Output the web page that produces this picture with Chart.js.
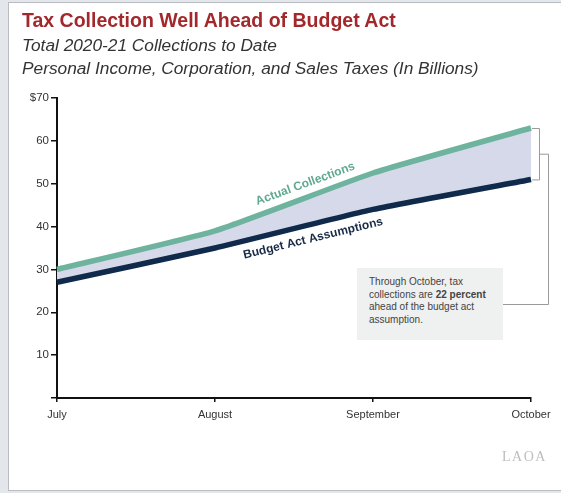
<!DOCTYPE html>
<html>
<head>
<meta charset="utf-8">
<script src="https://cdn.jsdelivr.net/npm/chart.js@4/dist/chart.umd.min.js"></script>
<style>
  html, body { margin:0; padding:0; width:561px; height:493px; overflow:hidden; background:#e3e6ea; font-family:'Liberation Sans', Arial, sans-serif; }
  #card { position:absolute; left:8px; top:2px; width:560px; height:487px; background:#fff; border:1px solid #b9bcc0; border-right:none; }
  #wrap { position:absolute; left:0; top:0; width:561px; height:493px; }
  .title { position:absolute; left:22px; top:9px; font-size:19.5px; font-weight:bold; color:#a3282b; white-space:nowrap; }
  .sub { position:absolute; left:22px; font-size:17.3px; font-style:italic; color:#333; white-space:nowrap; }
  #note { position:absolute; left:357px; top:268px; width:134px; height:64px; padding:8px 0 0 12px; background:#eff0f0; font-size:10px; line-height:12.7px; color:#444; }
  #logo { position:absolute; left:502px; top:449px; font-family:'Liberation Serif', serif; font-size:14px; color:#bdbdbd; letter-spacing:1.5px; }
</style>
</head>
<body>
<div id="card"></div>
<div id="wrap"><canvas id="c"></canvas></div>
<div class="title">Tax Collection Well Ahead of Budget Act</div>
<div class="sub" style="top:35px;">Total 2020-21 Collections to Date</div>
<div class="sub" style="top:58px;">Personal Income, Corporation, and Sales Taxes (In Billions)</div>
<div id="note">Through October, tax<br>collections are <b>22 percent</b><br>ahead of the budget act<br>assumption.</div>
<div id="logo">LAOA</div>
<script>
const months = ['July', 'August', 'September', 'October'];
const seriesNames = ['Actual Collections', 'Budget Act Assumptions'];
const actualCollections = [30, 39, 52.5, 63];
const budgetAssumptions = [27, 35, 44, 51];
const yTickLabels = ['', '10', '20', '30', '40', '50', '60', '$70'];

const GREEN = '#6db39e';
const NAVY = '#0f2a4a';

const decor = {
  id: 'decor',
  afterDatasetsDraw(chart) {
    const ctx = chart.ctx;
    const x = chart.scales.x, y = chart.scales.y;
    const labelAt = (data, t, off, text, color) => {
      const x1 = x.getPixelForValue(1), x2 = x.getPixelForValue(2);
      const y1 = y.getPixelForValue(data[1]), y2 = y.getPixelForValue(data[2]);
      const px = x1 + (x2 - x1) * t, py = y1 + (y2 - y1) * t;
      const ang = Math.atan2(y2 - y1, x2 - x1);
      ctx.save();
      ctx.translate(px, py);
      ctx.rotate(ang);
      ctx.font = 'bold 12px "Liberation Sans", Arial, sans-serif';
      ctx.fillStyle = color;
      ctx.textAlign = 'center';
      ctx.textBaseline = 'middle';
      ctx.fillText(text, 0, off);
      ctx.restore();
    };
    labelAt(actualCollections, 0.6, -13, seriesNames[0], '#5fa890');
    labelAt(budgetAssumptions, 0.6, 14, seriesNames[1], '#1a2c48');
    const last = months.length - 1;
    const ex = x.getPixelForValue(last);
    const ya = y.getPixelForValue(actualCollections[last]);
    const yb = y.getPixelForValue(budgetAssumptions[last]);
    const bx = ex + 8, mid = (ya + yb) / 2, ox = bx + 9;
    ctx.save();
    ctx.strokeStyle = '#9a9a9a';
    ctx.lineWidth = 1;
    ctx.beginPath();
    ctx.moveTo(ex + 1, ya + 0.5); ctx.lineTo(bx + 0.5, ya + 0.5); ctx.lineTo(bx + 0.5, yb + 0.5); ctx.lineTo(ex + 1, yb + 0.5);
    ctx.moveTo(bx + 0.5, mid + 0.5); ctx.lineTo(ox + 0.5, mid + 0.5); ctx.lineTo(ox + 0.5, 304.5); ctx.lineTo(503, 304.5);
    ctx.stroke();
    ctx.restore();
  }
};

Chart.defaults.font.family = '"Liberation Sans", Arial, sans-serif';

new Chart(document.getElementById('c'), {
  type: 'line',
  data: {
    labels: months,
    datasets: [
      { label: seriesNames[0], data: actualCollections, borderColor: GREEN, borderWidth: 5.5, pointRadius: 0, tension: 0.15, fill: '+1', backgroundColor: '#d5d9e9' },
      { label: seriesNames[1], data: budgetAssumptions, borderColor: NAVY, borderWidth: 5.5, pointRadius: 0, tension: 0.15, fill: false }
    ]
  },
  options: {
    responsive: true,
    maintainAspectRatio: false,
    animation: false,
    layout: { padding: { top: 98, left: 0, right: 30, bottom: 0 } },
    plugins: { legend: { display: false }, tooltip: { enabled: false }, title: { display: false }, filler: { drawTime: 'beforeDatasetsDraw' } },
    scales: {
      x: {
        offset: false,
        grid: { display: true, drawOnChartArea: false, drawTicks: true, tickLength: 4, color: '#111', lineWidth: 1.5 },
        border: { display: true, color: '#111', width: 2 },
        ticks: { color: '#333', font: { size: 11 }, padding: 6, maxRotation: 0, autoSkip: false },
        afterFit(s) { s.height = 95; }
      },
      y: {
        min: 0, max: 70,
        grid: { display: true, drawOnChartArea: false, drawTicks: true, tickLength: 6, color: '#111', lineWidth: 1.5 },
        border: { display: true, color: '#111', width: 2 },
        ticks: { stepSize: 10, color: '#333', font: { size: 11.5 }, padding: 2, callback: (v) => yTickLabels[Math.round(v / 10)] },
        afterFit(s) { s.width = 57; }
      }
    }
  },
  plugins: [decor]
});
</script>
</body>
</html>
